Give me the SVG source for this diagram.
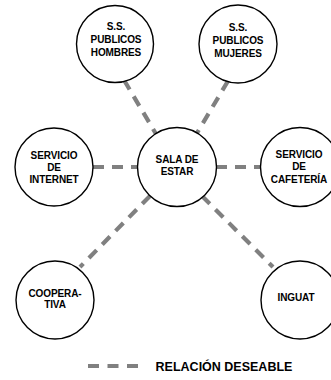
<svg xmlns="http://www.w3.org/2000/svg" width="331" height="380" viewBox="0 0 331 380">
<style>
.n circle{fill:#fff;stroke:#000;stroke-width:1.4}
.n text,.lg{font-family:"Liberation Sans",Arial,sans-serif;font-weight:bold;fill:#000;text-anchor:middle}
.n text{font-size:10px;letter-spacing:-0.1px}
.c line{stroke:#808080;stroke-width:4.2;stroke-dasharray:11 8}
</style>
<rect width="331" height="380" fill="#fff"/>
<g id="connectors" class="c">
<line x1="124" y1="80" x2="156" y2="134"/>
<line x1="228" y1="81" x2="197" y2="133"/>
<line x1="93" y1="167" x2="138" y2="167"/>
<line x1="216" y1="167" x2="261" y2="167"/>
<line x1="150" y1="196" x2="80" y2="267"/>
<line x1="202" y1="196" x2="273" y2="267"/>
</g>
<g id="hombres" class="n"><circle cx="115" cy="44" r="38.5"/><text x="116" y="30">S.S.</text><text x="116" y="43">PUBLICOS</text><text x="116" y="56">HOMBRES</text></g>
<g id="mujeres" class="n"><circle cx="238" cy="44" r="39"/><text x="238" y="31">S.S.</text><text x="238" y="44">PUBLICOS</text><text x="238" y="57">MUJERES</text></g>
<g id="internet" class="n"><circle cx="54" cy="167" r="39"/><text x="54" y="159">SERVICIO</text><text x="54" y="171">DE</text><text x="54" y="183">INTERNET</text></g>
<g id="sala" class="n"><circle cx="177" cy="167" r="39.5"/><text x="177" y="163">SALA DE</text><text x="177" y="175">ESTAR</text></g>
<g id="cafeteria" class="n"><circle cx="300" cy="167" r="39.5"/><text x="299" y="158">SERVICIO</text><text x="299" y="170">DE</text><text x="299" y="183">CAFETERÍA</text></g>
<g id="cooperativa" class="n"><circle cx="55" cy="300" r="39"/><text x="55" y="297">COOPERA-</text><text x="55" y="308">TIVA</text></g>
<g id="inguat" class="n"><circle cx="300" cy="300" r="39"/><text x="296" y="301">INGUAT</text></g>
<g id="legend">
<line x1="88" y1="366" x2="138" y2="366" stroke="#808080" stroke-width="4.2" stroke-dasharray="11 8.5"/>
<text class="lg" x="224" y="371" font-size="12.5">RELACIÓN DESEABLE</text>
</g>
</svg>
